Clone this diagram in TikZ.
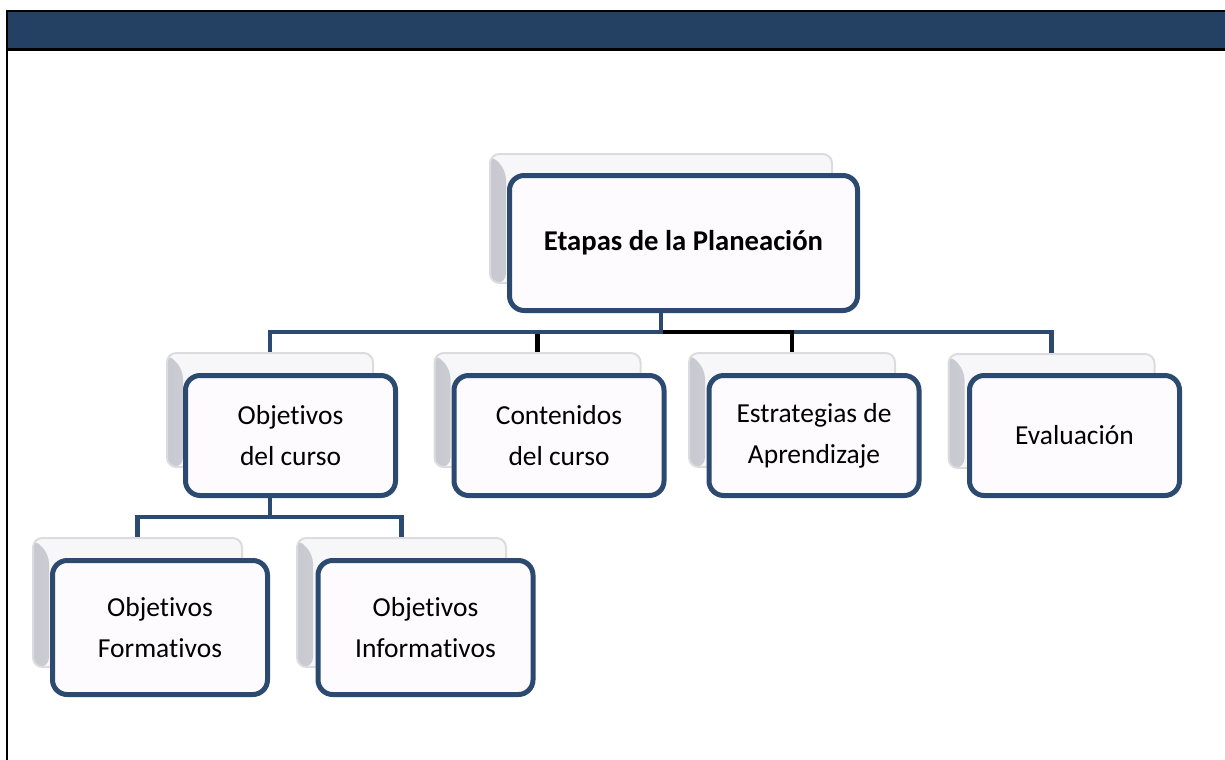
\documentclass[tikz,border=0pt]{standalone}
\usepackage{fontspec}
\setmainfont[Ligatures=NoCommon]{Carlito}
\definecolor{barblue}{HTML}{244062}
\definecolor{boxblue}{HTML}{2C4A70}
\definecolor{boxfill}{HTML}{FDFBFE}
\definecolor{platefill}{HTML}{F7F7F9}
\definecolor{plateedge}{HTML}{DCDCE0}
\definecolor{platedark}{HTML}{C8C8D0}
\tikzset{
  box/.style={draw=boxblue,line width=3.75pt,rounded corners=11pt,fill=boxfill,
    align=center,inner sep=0pt,font=\fontsize{20.6}{30.8}\selectfont},
  kidbox/.style={box,minimum width=157.5pt,minimum height=90pt},
  leafbox/.style={box,minimum width=161.25pt,minimum height=100.5pt},
  plate/.style={draw=plateedge,line width=1.5pt,rounded corners=7pt,fill=platefill,
    path picture={\shade[left color=platedark,right color=platefill]
      (path picture bounding box.south west) -- (path picture bounding box.north west)
      -- ([xshift=12pt,yshift=-12pt]path picture bounding box.north west)
      -- ([xshift=12pt]path picture bounding box.south west) -- cycle;}},
  kidplate/.style={plate,minimum width=154.5pt,minimum height=85.5pt},
  leafplate/.style={plate,minimum width=156.75pt,minimum height=96.75pt},
  link/.style={draw=boxblue,line width=3.2pt},
  blacklink/.style={draw=black,line width=3.2pt},
}
\begin{document}
\begin{tikzpicture}[x=0.75pt,y=-0.75pt]
\useasboundingbox (0,0) rectangle (1225,760);
%% frame
\fill[barblue] (7,11) rectangle (1225,49.5);
\draw[black,line width=2pt] (1225,11) -- (7,11) -- (7,760);
\draw[black,line width=2pt] (7,49.5) -- (1225,49.5);
%% back plates
\node (root-p) at (661,218.5) [plate,minimum width=256.5pt,minimum height=96.75pt] {};
\node (obj-p) at (270,410) [kidplate] {};
\node (cont-p) at (537.5,410) [kidplate] {};
\node (estr-p) at (792,410) [kidplate] {};
\node (eval-p) at (1051.5,411) [kidplate] {};
\node (form-p) at (137.5,602.5) [leafplate] {};
\node (info-p) at (401.5,602.5) [leafplate] {};
%% boxes
\node (root) at (683.5,243) [box,minimum width=261pt,minimum height=101.25pt,
  font=\bfseries\fontsize{21.5}{26}\selectfont] {Etapas de la Planeación};
\node (obj) at (290.5,435.5) [kidbox] {Objetivos\\del curso};
\node (cont) at (559,435.5) [kidbox] {Contenidos\\del curso};
\node (estr) at (814,435.5) [kidbox] {Estrategias de\\Aprendizaje};
\node (eval) at (1074.5,435.5) [kidbox] {Evaluación};
\node (form) at (160,627.5) [leafbox] {Objetivos\\Formativos};
\node (info) at (425.5,627.5) [leafbox] {Objetivos\\Informativos};
%% connectors
\coordinate (hub) at (661,332);
\coordinate (hub2) at (270,517);
\draw [link] (root.south -| root-p.south) |- (hub) -| (eval-p.north);
\draw [blacklink] (hub) -| (estr-p.north);
\draw [blacklink] (hub) -| (cont-p.north);
\draw [link] (root.south -| root-p.south) |- (hub) -| (obj-p.north);
\draw [link] (obj.south -| obj-p.south) |- (hub2) -| (form-p.north);
\draw [link] (hub2) -| (info-p.north);
%
\end{tikzpicture}
\end{document}
